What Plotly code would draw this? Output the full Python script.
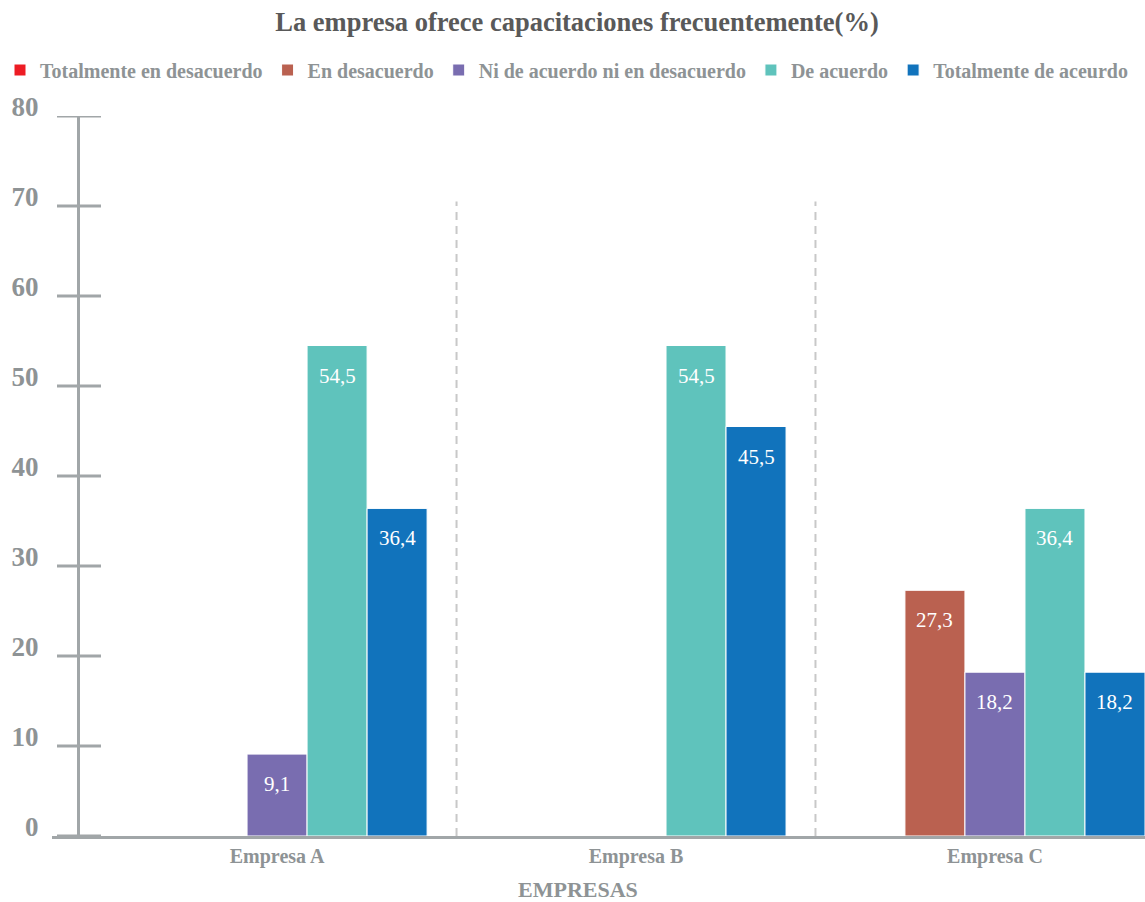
import plotly.graph_objects as go

# Survey results per company (percent of respondents)
empresas = ["Empresa A", "Empresa B", "Empresa C"]
totalmente_desacuerdo = [0, 0, 0]
en_desacuerdo = [0, 0, 27.3]
ni_acuerdo = [9.1, 0, 18.2]
de_acuerdo = [54.5, 54.5, 36.4]
totalmente_acuerdo = [36.4, 45.5, 18.2]

series_names = [
    "Totalmente en desacuerdo",
    "En desacuerdo",
    "Ni de acuerdo ni en desacuerdo",
    "De acuerdo",
    "Totalmente de aceurdo",
]
series_values = [totalmente_desacuerdo, en_desacuerdo, ni_acuerdo,
                 de_acuerdo, totalmente_acuerdo]
series_colors = ["#ED1C24", "#BA6150", "#796DB0", "#5FC3BC", "#1173BC"]

y_ticks = [0, 10, 20, 30, 40, 50, 60, 70, 80]

FONT = "Liberation Serif"
GRAY = "#8E9395"
AXIS = "#A1A6A8"

# Plot area geometry (px)
W, H = 1145, 902
ML, MR, MT, MB = 52, 0, 116, 66
PW, PH = W - ML - MR, H - MT - MB

fig = go.Figure()
for name, vals, col in zip(series_names, series_values, series_colors):
    fig.add_trace(go.Bar(
        x=empresas, y=vals, name=name,
        marker=dict(color=col, line=dict(color="white", width=1)),
    ))

# Value labels inside the bars, below the top edge
n = len(series_names)
bargap = 0.164
bar_w = (1 - bargap) / n
annotations = []
for j, vals in enumerate(series_values):
    for i, v in enumerate(vals):
        if v > 0:
            annotations.append(dict(
                x=i + (j - (n - 1) / 2) * bar_w, y=v, xref="x", yref="y",
                text=f"{v:.1f}".replace(".", ","), showarrow=False,
                yshift=-30, font=dict(family=FONT, size=21, color="white"),
            ))

# Axis title
annotations.append(dict(
    x=(578 - ML) / PW, y=(H - MB - 889) / PH, xref="paper", yref="paper",
    text="<b>EMPRESAS</b>", showarrow=False, xanchor="center", yanchor="middle",
    font=dict(family=FONT, size=22, color=GRAY),
))

shapes = []
# Cross tick marks on the value axis
for t in y_ticks:
    shapes.append(dict(
        type="line", xref="paper", yref="y",
        x0=(57 - ML) / PW, x1=(101 - ML) / PW, y0=t, y1=t,
        line=dict(color=AXIS, width=3),
    ))
# Dashed separators between companies
for k in range(len(empresas) - 1):
    shapes.append(dict(
        type="line", xref="x", yref="y",
        x0=k + 0.5, x1=k + 0.5, y0=0, y1=70.5,
        line=dict(color="#C8C8C8", width=2, dash="8px,6px"),
    ))

fig.update_layout(
    width=W, height=H,
    margin=dict(l=ML, r=MR, t=MT, b=MB),
    paper_bgcolor="white", plot_bgcolor="white",
    barmode="group", bargap=bargap, bargroupgap=0,
    title=dict(
        text="<b>La empresa ofrece capacitaciones frecuentemente(%)</b>",
        x=577 / W, xref="container", xanchor="center",
        y=1 - 22 / H, yref="container", yanchor="middle",
        font=dict(family=FONT, size=26.5, color="#595959"),
    ),
    # Single-row legend spanning the full figure width above the plot
    legend=dict(
        orientation="h", xref="paper", yref="paper",
        x=-ML / PW, y=(H - MB - 70) / PH, xanchor="left", yanchor="middle",
        font=dict(family=FONT, size=20, color=GRAY, weight="bold"),
        itemclick=False, traceorder="normal",
    ),
    xaxis=dict(
        range=[-0.627, 2.418], showgrid=False, zeroline=False,
        showline=True, linecolor=AXIS, linewidth=3, ticks="",
        tickfont=dict(family=FONT, size=20, color=GRAY, weight="bold"),
    ),
    yaxis=dict(
        range=[0, 80], tickvals=y_ticks, showgrid=False, zeroline=False,
        showline=True, linecolor=AXIS, linewidth=3, ticks="",
        anchor="free", position=(78 - ML) / PW,
        ticklabelstandoff=33, ticklabelshift=-9,
        tickfont=dict(family=FONT, size=27, color=GRAY, weight="bold"),
    ),
    annotations=annotations,
    shapes=shapes,
    showlegend=True,
)

fig.write_html("out.html")
